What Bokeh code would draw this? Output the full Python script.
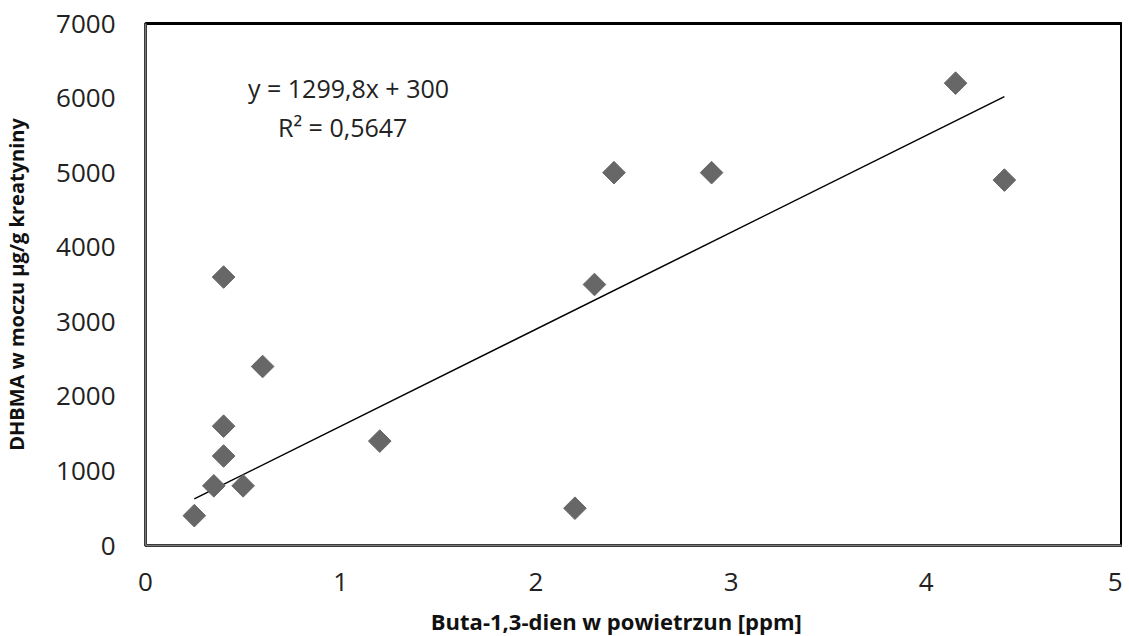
import math
from bokeh.plotting import figure
from bokeh.models import Range1d, FixedTicker, ColumnDataSource
from bokeh.core.properties import value
from bokeh.embed import file_html
from bokeh.resources import INLINE

x_ppm = [0.25, 0.35, 0.5, 0.4, 0.4, 0.4, 0.6, 1.2, 2.2, 2.3, 2.4, 2.9, 4.15, 4.4]
y_dhbma = [400, 800, 800, 1200, 1600, 3600, 2400, 1400, 500, 3500, 5000, 5000, 6200, 4900]
slope = 1299.8
intercept = 300
eq_text = ["y = 1299,8x + 300", "R² = 0,5647"]
x_ticks = [0, 1, 2, 3, 4, 5]
y_ticks = [0, 1000, 2000, 3000, 4000, 5000, 6000, 7000]

FONT = "Open Sans"

p = figure(output_backend="svg", toolbar_location=None,
           x_range=Range1d(0, 5), y_range=Range1d(0, 7000),
           min_border_left=132, min_border_right=1, min_border_top=23, min_border_bottom=86)
p.frame_width = 976
p.frame_height = 522

p.outline_line_color = "black"
p.outline_line_width = 3
p.xgrid.visible = False
p.ygrid.visible = False
p.background_fill_color = "white"

for ax in (p.xaxis, p.yaxis):
    ax.major_tick_line_color = None
    ax.minor_tick_line_color = None
    ax.axis_line_color = "#777777"
    ax.axis_line_width = 2
    ax.major_label_text_font = FONT
    ax.major_label_text_font_size = "26px"
    ax.major_label_text_color = "#222222"
    ax.axis_label_text_font = FONT
    ax.axis_label_text_font_style = "bold"
    ax.axis_label_text_color = "#111111"

p.xaxis.ticker = FixedTicker(ticks=x_ticks)
p.yaxis.ticker = FixedTicker(ticks=y_ticks)
p.xaxis.axis_label = "Buta-1,3-dien w powietrzun [ppm]" + "\u00a0" * 6
p.yaxis.axis_label = "DHBMA w moczu µg/g kreatyniny"
p.xaxis.axis_label_text_font_size = "22px"
p.yaxis.axis_label_text_font_size = "20px"
p.xaxis.major_label_standoff = 21
p.yaxis.major_label_standoff = 24
p.xaxis.axis_label_standoff = 12
p.yaxis.axis_label_standoff = 23

# trend line
x0, x1 = min(x_ppm), max(x_ppm)
p.line([x0, x1], [slope * x0 + intercept, slope * x1 + intercept], line_color="black", line_width=1.5)

src = ColumnDataSource(data=dict(x=x_ppm, y=y_dhbma))
p.scatter("x", "y", source=src, marker="square", size=16, angle=math.pi / 4,
          fill_color="#676767", line_color="#676767")

p.text(x=[1.04, 1.01], y=[6130, 5610], text=eq_text, text_font=value(FONT),
       text_font_size="25px", text_align="center", text_baseline="middle", text_color="#222222")

open("out.html", "w").write(file_html(p, INLINE))
